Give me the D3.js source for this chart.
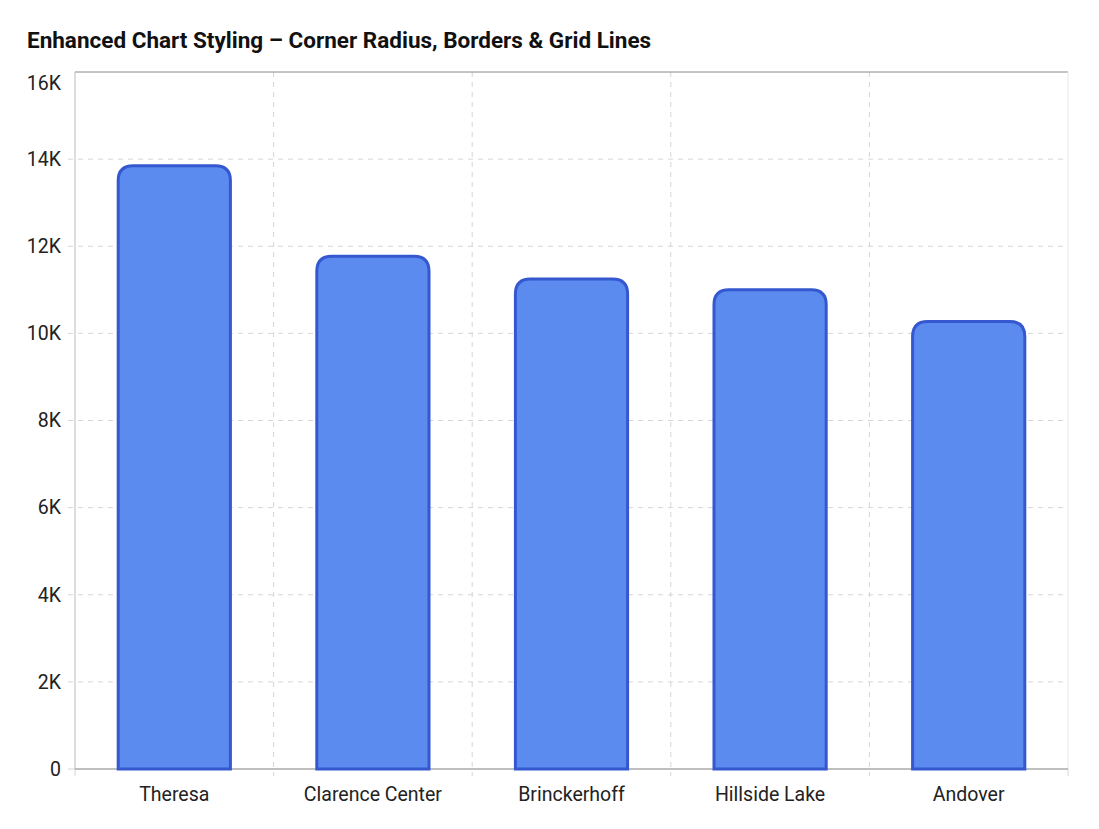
<!DOCTYPE html>
<html lang="en">
  <head>
    <meta charset="UTF-8" />
    <title>Enhanced Chart Styling</title>
    <script src="https://cdn.jsdelivr.net/npm/d3@7"></script>
    <style>
      body { margin: 0; background: #fff; font-family: Roboto, sans-serif; }
      svg { display: block; }
    </style>
  </head>
  <body>
    <svg width="1099" height="829"></svg>
    <script>
      const categories = ["Theresa", "Clarence Center", "Brinckerhoff", "Hillside Lake", "Andover"];
      const values = [13850, 11770, 11250, 11000, 10270];
      const yTicks = [0, 2000, 4000, 6000, 8000, 10000, 12000, 14000, 16000];

      const margin = { top: 72, right: 31, bottom: 60, left: 75 };
      const width = 1099, height = 829;
      const svg = d3.select("svg");

      const x = d3.scaleBand()
        .domain(categories)
        .range([margin.left, width - margin.right])
        .paddingInner(0)
        .paddingOuter(0);
      const y = d3.scaleLinear()
        .domain([0, 16000])
        .range([height - margin.bottom, margin.top]);

      // title
      svg.append("text")
        .attr("x", 27).attr("y", 48)
        .attr("font-size", 22.5).attr("font-weight", 700)
        .attr("fill", "#111")
        .text("Enhanced Chart Styling – Corner Radius, Borders & Grid Lines");

      // horizontal grid (with tick stub left of axis)
      svg.append("g")
        .selectAll("line")
        .data(yTicks.filter(d => d > 0 && d < 16000))
        .join("line")
        .attr("x1", margin.left - 7).attr("x2", width - margin.right)
        .attr("y1", d => y(d)).attr("y2", d => y(d))
        .attr("stroke", "#d6d6d6").attr("stroke-dasharray", "5,5");

      // vertical grid at band boundaries (with tick stub below axis)
      const bounds = categories.map(c => x(c)).concat([x.range()[1]]);
      svg.append("g")
        .selectAll("line")
        .data(bounds.slice(1, -1))
        .join("line")
        .attr("x1", d => d).attr("x2", d => d)
        .attr("y1", margin.top).attr("y2", y(0) + 7)
        .attr("stroke", "#d6d6d6").attr("stroke-dasharray", "5,5");
      svg.append("g")
        .selectAll("line")
        .data([bounds[0], bounds[bounds.length - 1]])
        .join("line")
        .attr("x1", d => d).attr("x2", d => d)
        .attr("y1", y(0)).attr("y2", y(0) + 7)
        .attr("stroke", "#d6d6d6");
      svg.append("line")
        .attr("x1", margin.left - 7).attr("x2", margin.left)
        .attr("y1", y(0)).attr("y2", y(0))
        .attr("stroke", "#d6d6d6");

      // borders
      svg.append("line")
        .attr("x1", margin.left).attr("x2", width - margin.right)
        .attr("y1", margin.top).attr("y2", margin.top)
        .attr("stroke", "#888");
      svg.append("line")
        .attr("x1", width - margin.right).attr("x2", width - margin.right)
        .attr("y1", margin.top).attr("y2", y(0))
        .attr("stroke", "#e6e6e6");
      svg.append("line")
        .attr("x1", margin.left).attr("x2", margin.left)
        .attr("y1", margin.top).attr("y2", y(0))
        .attr("stroke", "#bbb");

      // x axis line
      svg.append("line")
        .attr("x1", margin.left).attr("x2", width - margin.right)
        .attr("y1", y(0)).attr("y2", y(0))
        .attr("stroke", "#aaa").attr("stroke-width", 1.5);

      // bars with rounded top corners
      const bw = x.bandwidth() * 0.565;
      const r = 15;
      function barPath(d, i) {
        const cx = x(categories[i]) + x.bandwidth() / 2;
        const x0 = cx - bw / 2, x1 = cx + bw / 2;
        const y0 = y(d), yb = y(0);
        return `M${x0},${yb} V${y0 + r} Q${x0},${y0} ${x0 + r},${y0} H${x1 - r} Q${x1},${y0} ${x1},${y0 + r} V${yb} Z`;
      }
      svg.append("g")
        .selectAll("path")
        .data(values)
        .join("path")
        .attr("d", barPath)
        .attr("fill", "#5b8bee")
        .attr("stroke", "#3558d0")
        .attr("stroke-width", 3);

      // y labels
      svg.append("g")
        .selectAll("text")
        .data(yTicks)
        .join("text")
        .attr("x", margin.left - 14)
        .attr("y", d => d === 16000 ? y(d) + 11 : y(d))
        .attr("dy", "0.35em")
        .attr("text-anchor", "end")
        .attr("font-size", 19.5).attr("fill", "#222")
        .text(d => d === 0 ? "0" : d / 1000 + "K");

      // x labels
      svg.append("g")
        .selectAll("text")
        .data(categories)
        .join("text")
        .attr("x", d => x(d) + x.bandwidth() / 2)
        .attr("y", y(0) + 25)
        .attr("dy", "0.35em")
        .attr("text-anchor", "middle")
        .attr("font-size", 19.5).attr("fill", "#222")
        .text(d => d);
    </script>
  </body>
</html>
